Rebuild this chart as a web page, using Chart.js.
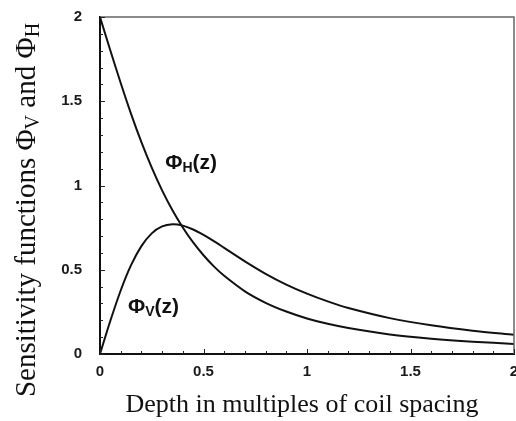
<!DOCTYPE html>
<html>
<head>
<script src="https://cdn.jsdelivr.net/npm/chart.js@4.4.1/dist/chart.umd.min.js"></script>
<style>
    html, body {
        margin: 0px;
        background-color: #ffffff;
        overflow: hidden;
    }
    #chartContainer {
        position: absolute;
        left: 0px;
        top: 0px;
        width: 516px;
        height: 421px;
    }
</style>
</head>
<body>
<div id="chartContainer">
    <canvas id="mainChart"></canvas>
</div>
<script>
// depth z (in multiples of coil spacing) and the two sensitivity curves
const depth = [0, 0.05, 0.1, 0.15, 0.2, 0.25, 0.3, 0.35, 0.4, 0.45, 0.5, 0.55, 0.6, 0.7, 0.8, 0.9, 1.0, 1.1, 1.2, 1.4, 1.6, 1.8, 2.0];
const phiV  = [0, 0.197, 0.377, 0.527, 0.640, 0.716, 0.757, 0.770, 0.762, 0.739, 0.707, 0.670, 0.630, 0.550, 0.476, 0.412, 0.358, 0.312, 0.273, 0.213, 0.170, 0.138, 0.114];
const phiH  = [2, 1.801, 1.608, 1.425, 1.257, 1.106, 0.971, 0.853, 0.751, 0.662, 0.586, 0.520, 0.464, 0.372, 0.304, 0.252, 0.211, 0.179, 0.154, 0.116, 0.091, 0.073, 0.060];
const xTickLabels = ["0", "0.5", "1", "1.5", "2"];
const yTickLabels = ["0", "0.5", "1", "1.5", "2"];

function points(ys) {
    return depth.map((z, i) => ({x: z, y: ys[i]}));
}

// draw text with subscripts: parts = [[text, isSub], ...]
function richText(ctx, parts, x, y, font, subFont, subShift, align) {
    var w = 0;
    parts.forEach(p => { ctx.font = p[1] ? subFont : font; w += ctx.measureText(p[0]).width; });
    var cx = align == "center" ? x - w / 2 : x;
    ctx.textBaseline = "middle";
    ctx.textAlign = "left";
    parts.forEach(p => {
        ctx.font = p[1] ? subFont : font;
        ctx.fillText(p[0], cx, p[1] ? y + subShift : y);
        cx += ctx.measureText(p[0]).width;
    });
}

const decorations = {
    id: 'decorations',
    afterDraw(chart) {
        const ctx = chart.ctx;
        const a = chart.chartArea;
        const xs = chart.scales.x, ys = chart.scales.y;
        ctx.save();
        // top and right frame lines
        ctx.strokeStyle = '#666666';
        ctx.lineWidth = 1.5;
        ctx.beginPath();
        ctx.moveTo(a.left, a.top);
        ctx.lineTo(a.right, a.top);
        ctx.lineTo(a.right, a.bottom);
        ctx.stroke();
        // inward ticks, major every 0.5 and minor every 0.1
        ctx.strokeStyle = '#222222';
        ctx.lineWidth = 1;
        for (var i = 0; i <= 20; i++) {
            var len = (i % 5 == 0) ? 5 : 3;
            var px = Math.round(xs.getPixelForValue(i / 10)) + 0.5;
            ctx.beginPath();
            ctx.moveTo(px, a.bottom);
            ctx.lineTo(px, a.bottom - len);
            ctx.stroke();
            var py = Math.round(ys.getPixelForValue(i / 10)) + 0.5;
            ctx.beginPath();
            ctx.moveTo(a.left, py);
            ctx.lineTo(a.left + len, py);
            ctx.stroke();
        }
        // curve labels
        ctx.fillStyle = '#111111';
        richText(ctx, [["\u03a6", false], ["H", true], ["(z)", false]],
            xs.getPixelForValue(0.315), ys.getPixelForValue(1.13),
            'bold 21px "Liberation Sans"', 'bold 14px "Liberation Sans"', 5, "left");
        richText(ctx, [["\u03a6", false], ["V", true], ["(z)", false]],
            xs.getPixelForValue(0.135), ys.getPixelForValue(0.28),
            'bold 21px "Liberation Sans"', 'bold 14px "Liberation Sans"', 5, "left");
        // axis titles
        richText(ctx, [["Depth in multiples of coil spacing", false]],
            302, 405, '26px "Liberation Serif"', '18px "Liberation Serif"', 6, "center");
        ctx.translate(27, 210);
        ctx.rotate(-Math.PI / 2);
        richText(ctx, [["Sensitivity functions \u03a6", false], ["V", true], [" and \u03a6", false], ["H", true]],
            0, 0, '29px "Liberation Serif"', '20px "Liberation Serif"', 7, "center");
        ctx.restore();
    }
};

const ctx = document.getElementById('mainChart').getContext("2d");
const config = {
    type: 'line',
    data: {
        datasets: [{
            label: "PhiV",
            data: points(phiV),
            borderColor: '#111111',
            borderWidth: 2,
            pointRadius: 0,
            fill: false,
            tension: 0.3
        },
        {
            label: "PhiH",
            data: points(phiH),
            borderColor: '#111111',
            borderWidth: 2,
            pointRadius: 0,
            fill: false,
            tension: 0.3
        }]
    },
    options: {
        responsive: true,
        maintainAspectRatio: false,
        animation: false,
        layout: {
            padding: {top: 17, right: 2, left: 0, bottom: 0}
        },
        scales: {
            x: {
                type: 'linear',
                min: 0,
                max: 2,
                grid: {drawOnChartArea: false, drawTicks: false},
                border: {display: true, color: '#111111', width: 2},
                ticks: {
                    stepSize: 0.5,
                    padding: 9,
                    maxRotation: 0,
                    color: '#1a1a1a',
                    font: {family: 'Liberation Sans', size: 15, weight: 'bold'},
                    callback: function(value, index) { return xTickLabels[index]; }
                },
                afterFit: function(scale) {
                    scale.height = 67;
                    scale.paddingRight = 0;
                    scale.paddingLeft = 0;
                }
            },
            y: {
                type: 'linear',
                min: 0,
                max: 2,
                grid: {drawOnChartArea: false, drawTicks: false},
                border: {display: true, color: '#111111', width: 2},
                ticks: {
                    stepSize: 0.5,
                    padding: 18,
                    color: '#1a1a1a',
                    font: {family: 'Liberation Sans', size: 15, weight: 'bold'},
                    callback: function(value, index) { return yTickLabels[index]; }
                },
                afterFit: function(scale) {
                    scale.width = 100;
                    scale.paddingTop = 0;
                    scale.paddingBottom = 0;
                }
            }
        },
        plugins: {
            legend: {display: false},
            tooltip: {enabled: false}
        }
    },
    plugins: [decorations]
};
const chart = new Chart(ctx, config);
</script>
</body>
</html>
